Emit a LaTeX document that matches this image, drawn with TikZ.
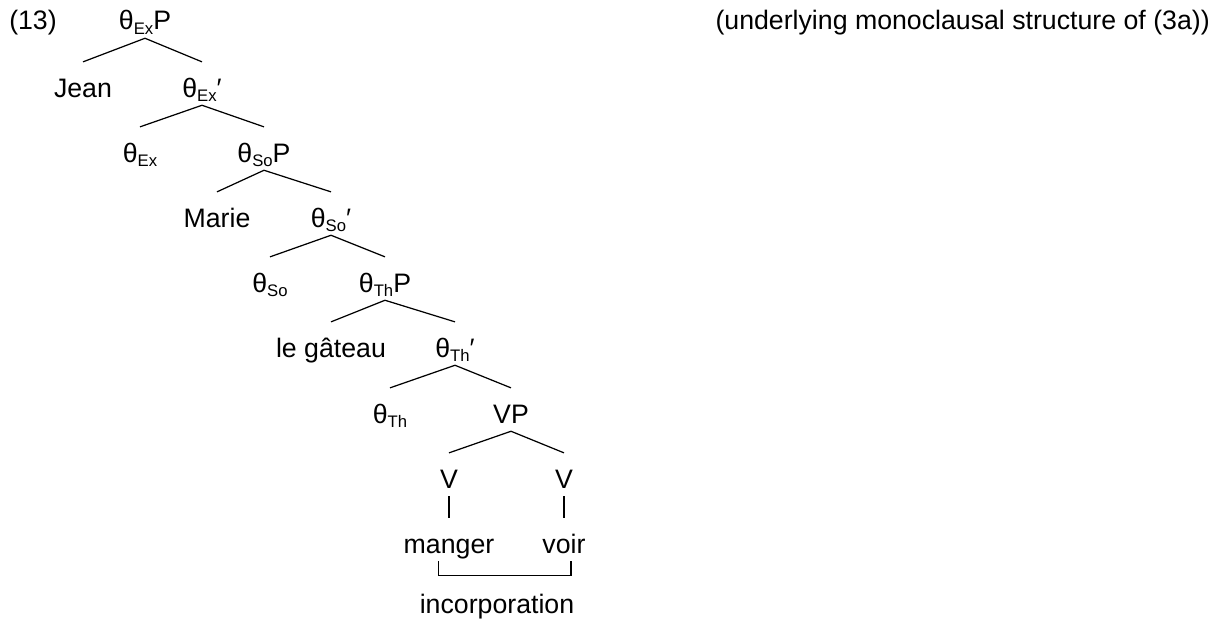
\documentclass[tikz,border=0pt]{standalone}
\usepackage{fontspec}
\setmainfont{Liberation Sans}
\usetikzlibrary{positioning}
\newcommand{\thsub}[1]{θ\raisebox{-2.8pt}{\fontsize{9.5}{9.5}\selectfont #1}}

\begin{document}
\begin{tikzpicture}[x=0.02cm, y=-0.02cm,
  cat/.style={anchor=base, inner sep=0pt, text height=19.8pt, text depth=4.5pt},
  branch/.style={line width=0.7pt},
  every node/.style={font=\fontsize{15.2}{18}\selectfont}
]
  \useasboundingbox (0,0) rectangle (1225,622);

  % example number and caption
  \node[anchor=base] (num) at (33,30) {(13)};
  \node[anchor=base east] (note) at (1216,30) {(underlying monoclausal structure of (3a))};

  % spine of the tree
  \node[cat] (exP)  at (145,30)  {\thsub{Ex}P};
  \node[cat] (jean) at (83,97)   {Jean};
  \node[cat] (exb)  at (202,97)  {\thsub{Ex}′};
  \node[cat] (ex)   at (140,162) {\thsub{Ex}};
  \node[cat] (soP)  at (264,162) {\thsub{So}P};
  \node[cat] (marie) at (217,227) {Marie};
  \node[cat] (sob)  at (331,227) {\thsub{So}′};
  \node[cat] (so)   at (270,292) {\thsub{So}};
  \node[cat] (thP)  at (385,292) {\thsub{Th}P};
  \node[cat] (gateau) at (331,357) {le gâteau};
  \node[cat] (thb)  at (455,357) {\thsub{Th}′};
  \node[cat] (th)   at (390,423) {\thsub{Th}};
  \node[cat] (vp)   at (511,423) {VP};
  \node[cat] (v1)   at (449,488) {V};
  \node[cat] (v2)   at (564,488) {V};
  \node[cat] (manger) at (449,553) {manger};
  \node[cat] (voir) at (564,553) {voir};
  \node[anchor=base] (incorp) at (497,613) {incorporation};

  \draw[branch] (exP.south) -- (jean.north);
  \draw[branch] (exP.south) -- (exb.north);
  \draw[branch] (exb.south) -- (ex.north);
  \draw[branch] (exb.south) -- (soP.north);
  \draw[branch] (soP.south) -- (marie.north);
  \draw[branch] (soP.south) -- (sob.north);
  \draw[branch] (sob.south) -- (so.north);
  \draw[branch] (sob.south) -- (thP.north);
  \draw[branch] (thP.south) -- (gateau.north);
  \draw[branch] (thP.south) -- (thb.north);
  \draw[branch] (thb.south) -- (th.north);
  \draw[branch] (thb.south) -- (vp.north);
  \draw[branch] (vp.south) -- (v1.north);
  \draw[branch] (vp.south) -- (v2.north);
  \draw[branch] (v1.south) -- (manger.north);
  \draw[branch] (v2.south) -- (voir.north);

  % incorporation bracket
  \draw[branch] ([xshift=-6]manger.south) -- ++(0,14) -| ([xshift=4]voir.south);
\end{tikzpicture}
\end{document}
